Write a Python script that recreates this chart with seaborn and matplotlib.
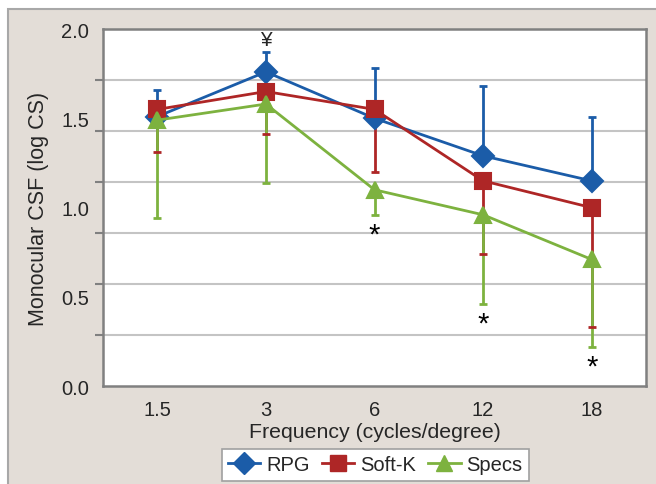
import numpy as np
import pandas as pd
import matplotlib
matplotlib.use("Agg")
import matplotlib.pyplot as plt
from matplotlib.lines import Line2D
from matplotlib.patches import Rectangle
import seaborn as sns

# Data
frequencies = ["1.5", "3", "6", "12", "18"]
groups = ["RPG", "Soft-K", "Specs"]

rpg_mean = [1.51, 1.76, 1.50, 1.29, 1.15]
rpg_err_up = [0.15, 0.11, 0.28, 0.39, 0.36]
softk_mean = [1.55, 1.65, 1.55, 1.15, 1.00]
softk_err_down = [0.24, 0.24, 0.35, 0.41, 0.67]
specs_mean = [1.49, 1.58, 1.10, 0.96, 0.71]
specs_err_down = [0.55, 0.44, 0.14, 0.50, 0.49]

rpg_marks = ["", "¥", "", "", ""]
specs_marks = ["", "", "*", "*", "*"]

colors = {"RPG": "#1B5CA8", "Soft-K": "#AE2626", "Specs": "#7DB23F"}
markers = {"RPG": "D", "Soft-K": "s", "Specs": "^"}


def build_frame():
    rows = []
    for grp, vals in zip(groups, [rpg_mean, softk_mean, specs_mean]):
        for f, v in zip(frequencies, vals):
            rows.append({"frequency": f, "csf": v, "group": grp})
    return pd.DataFrame(rows)


def main():
    df = build_frame()
    plt.rcParams["font.family"] = ["Liberation Sans", "DejaVu Sans"]
    text_color = "#262626"

    fig = plt.figure(figsize=(6.56, 4.85), dpi=100)
    fig.patch.set_facecolor("white")
    # beige chart area with gray border, like the Excel chart frame
    fig.patches.append(Rectangle((8 / 656, -0.01), 1.0, 1 - 10 / 485 + 0.01,
                                 transform=fig.transFigure, facecolor="#E3DDD7",
                                 edgecolor="#A8A8A8", linewidth=1.5, zorder=-5))
    ax = fig.add_axes([103 / 656, 1 - 387.3 / 485, (646 - 103) / 656, (387.3 - 30) / 485])
    ax.set_facecolor("white")

    x = np.arange(len(frequencies))
    ax.errorbar(x, rpg_mean, yerr=[np.zeros(len(x)), rpg_err_up], fmt="none",
                ecolor=colors["RPG"], elinewidth=2, capsize=3, capthick=2, zorder=3)
    ax.errorbar(x, softk_mean, yerr=[softk_err_down, np.zeros(len(x))], fmt="none",
                ecolor=colors["Soft-K"], elinewidth=2, capsize=3, capthick=2, zorder=3)
    ax.errorbar(x, specs_mean, yerr=[specs_err_down, np.zeros(len(x))], fmt="none",
                ecolor=colors["Specs"], elinewidth=2, capsize=3, capthick=2, zorder=3)

    sns.pointplot(data=df, x="frequency", y="csf", hue="group", order=frequencies,
                  hue_order=groups, palette=colors, markers=[markers[g] for g in groups],
                  linestyles="-", errorbar=None, legend=False, ax=ax,
                  markersize=11, linewidth=2)
    for ln in ax.lines:
        ln.set_zorder(4)

    # significance marks
    for i, m in enumerate(rpg_marks):
        if m:
            ax.annotate(m, (x[i], rpg_mean[i] + rpg_err_up[i]), xytext=(0, 9),
                        textcoords="offset points", ha="center", va="center",
                        fontsize=15, color=text_color)
    for i, m in enumerate(specs_marks):
        if m:
            ax.annotate(m, (x[i], specs_mean[i] - specs_err_down[i]), xytext=(0, -14),
                        textcoords="offset points", ha="center", va="center",
                        fontsize=21, color="black")

    ax.set_xlim(-0.5, len(frequencies) - 0.5)
    ax.set_ylim(0, 2.0)
    ax.set_yticks([0, 0.5, 1.0, 1.5, 2.0])
    ax.set_yticklabels(["0.0", "0.5", "1.0", "1.5", "2.0"])
    ax.set_yticks(np.linspace(0, 2.0, 8), minor=True)
    ax.grid(False)
    ax.grid(True, axis="y", which="minor", color="#C4C4C4", linewidth=1.5, zorder=0)
    ax.set_axisbelow(True)
    ax.tick_params(axis="y", which="major", length=0, pad=10, labelsize=14.5, colors=text_color)
    ax.tick_params(axis="y", which="minor", length=6, width=1.5, color="#808080")
    ax.tick_params(axis="x", length=0, pad=10, labelsize=14.5, colors=text_color)

    for sp in ax.spines.values():
        sp.set_color("#808080")
        sp.set_linewidth(1.8)

    ax.set_xlabel("Frequency (cycles/degree)", fontsize=15.3, color=text_color, labelpad=2)
    ax.set_ylabel("Monocular CSF (log CS)", fontsize=15.5, color=text_color, labelpad=9)

    handles = [Line2D([0], [0], color=colors[g], marker=markers[g], markersize=11,
                      linewidth=2) for g in groups]
    leg = fig.legend(handles, groups, loc="center", bbox_to_anchor=(375.5 / 656, 1 - 466 / 485),
                     ncol=3, frameon=True, fancybox=False, fontsize=14.5,
                     handlelength=1.6, handletextpad=0.3, columnspacing=0.6,
                     borderpad=0.3, framealpha=1)
    leg.get_frame().set_edgecolor("#A0A0A0")
    leg.get_frame().set_linewidth(1.2)
    for t in leg.get_texts():
        t.set_color(text_color)

    fig.savefig("out.png", dpi=100)
    plt.close(fig)


if __name__ == "__main__":
    main()
